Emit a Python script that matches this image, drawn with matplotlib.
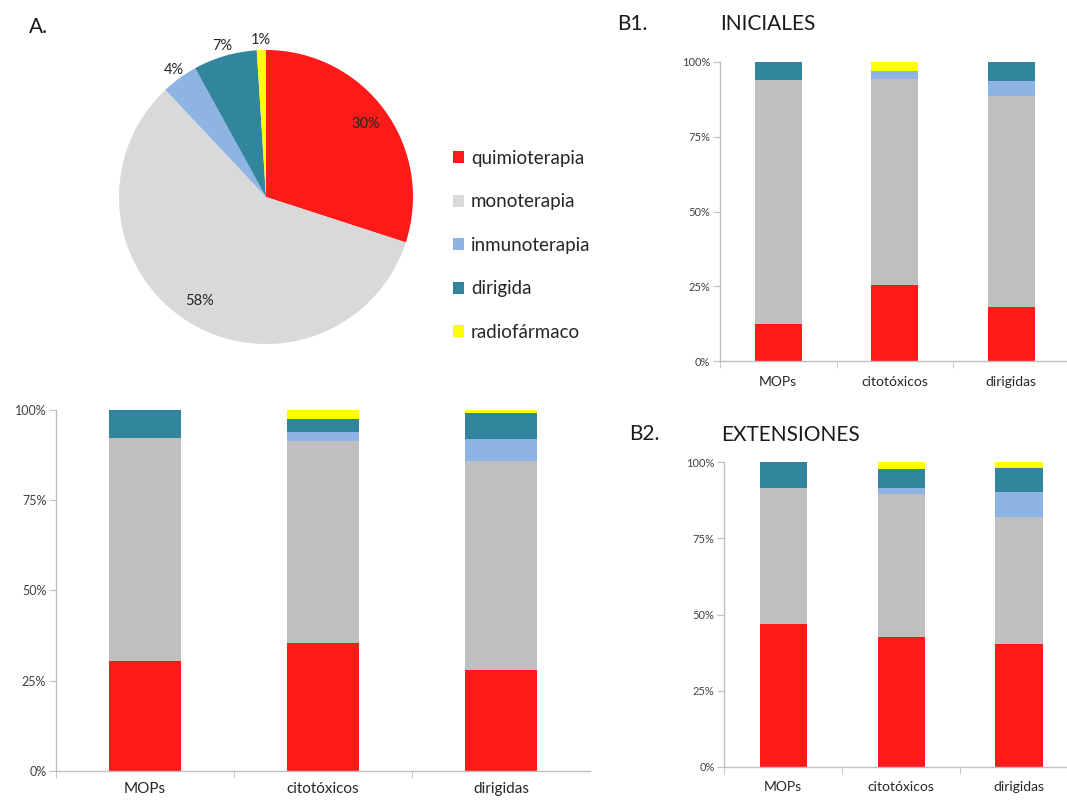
import matplotlib
matplotlib.use("Agg")
import matplotlib.pyplot as plt
from matplotlib.patches import Patch
import numpy as np

plt.rcParams['font.family'] = ['Lato', 'DejaVu Sans']

# Treatment types and their colours
series = ["quimioterapia", "monoterapia", "inmunoterapia", "dirigida", "radiofármaco"]
bar_colors = ["#FF1A1A", "#BFBFBF", "#8EB4E3", "#31859C", "#FFFF00"]
pie_colors = ["#FF1A1A", "#D9D9D9", "#8EB4E3", "#31859C", "#FFFF00"]

# A. overall share (%)
pie_values = [30, 58, 4, 7, 1]

categories = ["MOPs", "citotóxicos", "dirigidas"]
y_ticks = [0, 25, 50, 75, 100]
y_ticklabels = ["0%", "25%", "50%", "75%", "100%"]

# Overall composition per category (%), rows follow `series`
total_quimio = [30.5, 35.3, 27.9]
total_mono = [61.8, 56.1, 58.0]
total_inmuno = [0.0, 2.6, 6.0]
total_dirigida = [7.7, 3.5, 7.2]
total_radio = [0.0, 2.5, 0.9]

# B1. INICIALES
ini_quimio = [12.4, 25.4, 18.0]
ini_mono = [81.5, 68.9, 70.6]
ini_inmuno = [0.0, 2.7, 4.9]
ini_dirigida = [6.1, 0.0, 6.5]
ini_radio = [0.0, 3.0, 0.0]

# B2. EXTENSIONES
ext_quimio = [46.9, 42.5, 40.2]
ext_mono = [44.6, 47.0, 41.8]
ext_inmuno = [0.0, 2.2, 8.2]
ext_dirigida = [8.5, 6.1, 7.9]
ext_radio = [0.0, 2.2, 1.9]

W, H = 1067, 801
fig = plt.figure(figsize=(W / 100, H / 100), dpi=100)
fig.patch.set_facecolor("white")


def px_axes(left, top, right, bottom):
    return fig.add_axes([left / W, 1 - bottom / H, (right - left) / W, (bottom - top) / H])


def stacked(ax, stacks, cat_fs=10, tick_fs=8, xmax=None, pad=10):
    n = len(categories)
    x = np.arange(n)
    base = np.zeros(n)
    for vals, col in zip(stacks, bar_colors):
        vals = np.asarray(vals, dtype=float)
        ax.bar(x, vals, width=0.4, bottom=base, color=col, linewidth=0, zorder=2)
        base += vals
    ax.set_xlim(-0.5, n - 0.5 if xmax is None else xmax)
    ax.set_ylim(0, 100)
    ax.set_yticks(y_ticks)
    ax.set_yticklabels(y_ticklabels, fontsize=tick_fs, color="#404040")
    ax.set_xticks(x)
    ax.set_xticklabels(categories, fontsize=cat_fs, color="#262626")
    ax.set_xticks(np.arange(n + 1) - 0.5, minor=True)
    ax.tick_params(axis="x", which="major", length=0, pad=pad)
    ax.tick_params(axis="x", which="minor", length=5, color="#BFBFBF", direction="out")
    ax.tick_params(axis="y", length=5, color="#BFBFBF", direction="out", pad=2)
    for s in ("top", "right"):
        ax.spines[s].set_visible(False)
    for s in ("left", "bottom"):
        ax.spines[s].set_color("#BFBFBF")
        ax.spines[s].set_linewidth(1.0)
    ax.set_facecolor("white")


# ---- A. pie chart ----
cx, cy, r = 266, 197, 147
axp = px_axes(cx - r, cy - r, cx + r, cy + r)
wedges, _ = axp.pie(pie_values, colors=pie_colors, startangle=90, counterclock=False,
                    wedgeprops=dict(linewidth=0))
axp.set_xlim(-1, 1)
axp.set_ylim(-1, 1)
axp.set_aspect("equal")
axp.axis("off")
for w, v in zip(wedges, pie_values):
    ang = np.deg2rad((w.theta1 + w.theta2) / 2)
    rad = 0.84 if v >= 10 else 1.07
    axp.text(rad * np.cos(ang), rad * np.sin(ang), f"{v}%", ha="center", va="center",
             fontsize=10.5, color="#262626")

fig.text(29 / W, 1 - 27 / H, "A.", fontsize=15, color="#1a1a1a", va="center", ha="left")

handles = [Patch(facecolor=c, edgecolor="none") for c in pie_colors]
fig.legend(handles, series, loc="upper left", bbox_to_anchor=(436 / W, 1 - 133 / H),
           frameon=False, fontsize=13.5, handlelength=0.6, handleheight=0.6,
           handletextpad=0.36, labelspacing=1.41, labelcolor="#262626")

# ---- overall stacked bars ----
ax0 = px_axes(56, 410, 590, 770.7)
stacked(ax0, [total_quimio, total_mono, total_inmuno, total_dirigida, total_radio],
        cat_fs=11, tick_fs=9, xmax=2.407, pad=8)
ax0.set_xticks([-0.5, 0.5, 1.5], minor=True)

# ---- B1 ----
ax1 = px_axes(720, 62, 1069.5, 361)
stacked(ax1, [ini_quimio, ini_mono, ini_inmuno, ini_dirigida, ini_radio],
        cat_fs=10, tick_fs=8, pad=10.5)
fig.text(617 / W, 1 - 24 / H, "B1.", fontsize=15, color="#1a1a1a", va="center", ha="left")
fig.text(720 / W, 1 - 24 / H, "INICIALES", fontsize=15, color="#1a1a1a", va="center", ha="left")

# ---- B2 ----
ax2 = px_axes(724.3, 462.3, 1078, 766.7)
stacked(ax2, [ext_quimio, ext_mono, ext_inmuno, ext_dirigida, ext_radio],
        cat_fs=10, tick_fs=8, pad=10.5)
fig.text(629 / W, 1 - 434 / H, "B2.", fontsize=15, color="#1a1a1a", va="center", ha="left")
fig.text(721 / W, 1 - 435 / H, "EXTENSIONES", fontsize=15, color="#1a1a1a", va="center", ha="left")

fig.savefig("out.png", dpi=100, facecolor="white")
